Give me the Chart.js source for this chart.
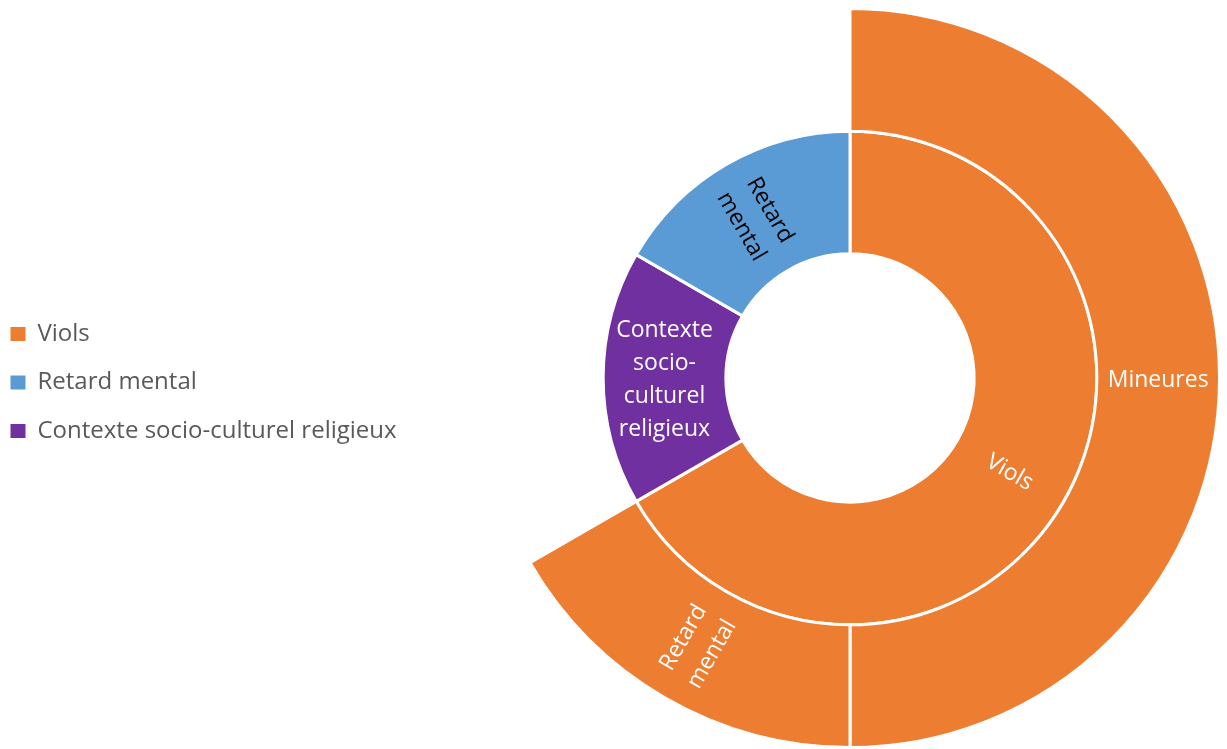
<!DOCTYPE html>
<html><head><meta charset="utf-8">
<script src="https://cdn.jsdelivr.net/npm/chart.js@4"></script>
<style>html,body{margin:0;padding:0;background:#fff}#wrap{width:1227px;height:749px;position:relative}</style>
</head><body><div id="wrap"><canvas id="c"></canvas></div>
<script>
// Inner ring (level 1), clockwise from top
const innerCategories = ['Viols', 'Contexte socio-culturel religieux', 'Retard mental'];
const innerValues = [4, 1, 1];
const innerColors = ['#ED7D31', '#7030A0', '#5B9BD5'];
const innerLabelLines = [['Viols'], ['Contexte', 'socio-', 'culturel', 'religieux'], ['Retard', 'mental']];
const innerLabelColors = ['#FFFFFF', '#FFFFFF', '#000000'];

// Outer ring (level 2), children of Viols; leaves without children are empty
const outerCategories = ['Mineures', 'Retard mental', '', ''];
const outerValues = [3, 1, 1, 1];
const outerColors = ['#ED7D31', '#ED7D31', 'rgba(0,0,0,0)', 'rgba(0,0,0,0)'];
const outerBorders = [3, 3, 0, 0];
const outerLabelLines = [['Mineures'], ['Retard', 'mental'], [], []];
const outerLabelColors = ['#FFFFFF', '#FFFFFF', '#FFFFFF', '#FFFFFF'];

// Legend
const legendCategories = ['Viols', 'Retard mental', 'Contexte socio-culturel religieux'];
const legendColors = ['#ED7D31', '#5B9BD5', '#7030A0'];

const FONT = '"Open Sans", "Liberation Sans", sans-serif';
const LEGEND_W = 491;

const legendWidthFix = {
  id: 'legendWidthFix',
  beforeLayout(chart) {
    const lg = chart.legend;
    if (lg && !lg._patched) {
      const f = lg.fit.bind(lg);
      lg.fit = function () { f(); this.width = LEGEND_W; };
      lg._patched = true;
    }
  }
};

const arcLabels = {
  id: 'arcLabels',
  afterDatasetsDraw(chart) {
    const ctx = chart.ctx;
    chart.data.datasets.forEach((ds, di) => {
      const meta = chart.getDatasetMeta(di);
      meta.data.forEach((arc, i) => {
        const lines = ds.labelLines[i];
        if (!lines || !lines.length) return;
        const p = arc.getProps(['x', 'y', 'startAngle', 'endAngle', 'innerRadius', 'outerRadius'], true);
        const mid = (p.startAngle + p.endAngle) / 2;
        const r = (p.innerRadius + p.outerRadius) / 2;
        const cx = p.x + Math.cos(mid) * r;
        const cy = p.y + Math.sin(mid) * r;
        const rot = Math.cos(mid) >= -1e-6 ? mid : mid + Math.PI;
        ctx.save();
        ctx.translate(cx, cy);
        ctx.rotate(rot);
        ctx.font = '23px ' + FONT;
        ctx.fillStyle = ds.labelColors[i];
        ctx.textAlign = 'center';
        ctx.textBaseline = 'middle';
        const lh = 33;
        lines.forEach((t, k) => ctx.fillText(t, 0, 2 + (k - (lines.length - 1) / 2) * lh));
        ctx.restore();
      });
    });
  }
};

new Chart(document.getElementById('c'), {
  type: 'doughnut',
  data: {
    labels: outerCategories.map((c, i) => c || innerCategories[i]),
    datasets: [
      {
        label: 'Niveau 2',
        data: outerValues,
        backgroundColor: outerColors,
        borderColor: '#FFFFFF',
        borderWidth: outerBorders,
        labelLines: outerLabelLines,
        labelColors: outerLabelColors
      },
      {
        label: 'Niveau 1',
        data: innerValues,
        backgroundColor: innerColors,
        borderColor: '#FFFFFF',
        borderWidth: 3,
        labelLines: innerLabelLines,
        labelColors: innerLabelColors
      }
    ]
  },
  options: {
    responsive: true,
    maintainAspectRatio: false,
    animation: false,
    cutout: '33.6%',
    layout: { padding: { left: -14, right: 4, top: 7, bottom: -4 } },
    plugins: {
      tooltip: { enabled: false },
      legend: {
        position: 'left',
        onClick: null,
        title: { display: true, text: '', padding: 0, font: { size: 4, lineHeight: 1.25 } },
        labels: {
          padding: 24.5,
          boxWidth: 15,
          boxHeight: 14,
          color: '#595959',
          font: { family: FONT, size: 24 },
          generateLabels: () => legendCategories.map((t, i) => ({
            text: t, fillStyle: legendColors[i], strokeStyle: legendColors[i],
            lineWidth: 0, hidden: false, index: i, fontColor: '#595959'
          }))
        }
      }
    }
  },
  plugins: [legendWidthFix, arcLabels]
});
</script>
</body></html>
